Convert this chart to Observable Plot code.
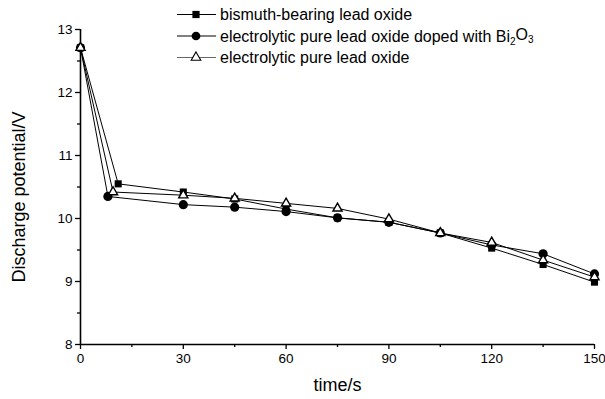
<!DOCTYPE html>
<html>
<head>
<meta charset="utf-8">
<script src="https://cdn.jsdelivr.net/npm/d3@7"></script>
<script src="https://cdn.jsdelivr.net/npm/@observablehq/plot@0.6"></script>
<style>
  html, body { margin: 0; padding: 0; background: #fff; }
  #chart { position: relative; width: 605px; height: 399px; }
</style>
</head>
<body>
<div id="chart"></div>
<script>
// Series data (time in s, discharge potential in V)
const seriesNames = [
  "bismuth-bearing lead oxide",
  "electrolytic pure lead oxide doped with Bi2O3",
  "electrolytic pure lead oxide"
];
const timeSquare = [0, 11, 30, 45, 60, 75, 90, 105, 120, 135, 150];
const vSquare    = [12.71, 10.55, 10.42, 10.31, 10.15, 10.01, 9.94, 9.77, 9.53, 9.27, 8.99];
const timeCircle = [0, 8, 30, 45, 60, 75, 90, 105, 120, 135, 150];
const vCircle    = [12.71, 10.35, 10.22, 10.18, 10.11, 10.01, 9.94, 9.77, 9.58, 9.44, 9.12];
const timeTri    = [0, 9.5, 30, 45, 60, 75, 90, 105, 120, 135, 150];
const vTri       = [12.71, 10.42, 10.37, 10.32, 10.24, 10.16, 9.99, 9.77, 9.62, 9.34, 9.07];
const xTicks = [0, 30, 60, 90, 120, 150];
const xMinor = [15, 45, 75, 105, 135];
const yTicks = [8, 9, 10, 11, 12, 13];
const yMinor = [8.5, 9.5, 10.5, 11.5, 12.5];

const mk = (ts, vs, s) => ts.map((t, i) => ({t, v: vs[i], s}));
const dSq = mk(timeSquare, vSquare, seriesNames[0]);
const dCi = mk(timeCircle, vCircle, seriesNames[1]);
const dTr = mk(timeTri, vTri, seriesNames[2]);

const font = "'Liberation Sans', Arial, sans-serif";

const plot = Plot.plot({
  width: 605,
  height: 399,
  marginLeft: 80,
  marginRight: 11,
  marginTop: 29,
  marginBottom: 55,
  style: {fontFamily: font, fontSize: "13px", color: "#000", background: "#fff"},
  x: {domain: [0, 150]},
  y: {domain: [8, 13]},
  marks: [
    Plot.axisX({ticks: xTicks, tickSize: 5, tickPadding: 4, tickFormat: "d", label: "time/s", labelAnchor: "center", labelArrow: "none", labelOffset: 46, fontSize: 13.5, strokeWidth: 1.3}),
    Plot.axisX({ticks: xMinor, tickSize: 3, text: null, label: null, strokeWidth: 1.3}),
    Plot.axisY({ticks: yTicks, tickSize: 5, tickPadding: 3, tickFormat: "d", label: "Discharge potential/V", labelAnchor: "center", labelArrow: "none", labelOffset: 68, fontSize: 13.5, strokeWidth: 1.3}),
    Plot.axisY({ticks: yMinor, tickSize: 3, text: null, label: null, strokeWidth: 1.3}),
    Plot.ruleX([0], {stroke: "#000", strokeWidth: 1.6}),
    Plot.ruleY([8], {stroke: "#000", strokeWidth: 1.6}),
    Plot.line(dSq, {x: "t", y: "v", stroke: "#000", strokeWidth: 1}),
    Plot.line(dCi, {x: "t", y: "v", stroke: "#000", strokeWidth: 1}),
    Plot.line(dTr, {x: "t", y: "v", stroke: "#000", strokeWidth: 1}),
    Plot.dot(dSq, {x: "t", y: "v", symbol: "square", r: 4.0, fill: "#000", stroke: "none"}),
    Plot.dot(dCi, {x: "t", y: "v", symbol: "circle", r: 4.6, fill: "#000", stroke: "none"}),
    Plot.dot(dTr, {x: "t", y: "v", symbol: "triangle", r: 3.4, fill: "#fff", stroke: "#000", strokeWidth: 1.4})
  ]
});

// axis titles: size and position
const svg = d3.select(plot);
svg.selectAll("g[aria-label='x-axis label'] text, g[aria-label='y-axis label'] text")
  .style("font-size", "18px");
svg.selectAll("g[aria-label='y-axis label']").each(function () {
  const g = d3.select(this);
  const tr = g.attr("transform") || "";
  g.attr("transform", "translate(0,10) " + tr);
});

// Legend drawn inside the plot area
const lg = svg.append("g").attr("font-family", font).attr("font-size", 16).attr("text-anchor", "start");
const symbols = [d3.symbolSquare, d3.symbolCircle, d3.symbolTriangle];
const fills = ["#000", "#000", "#fff"];
const sizes = [52, 60, 40];
seriesNames.forEach((name, i) => {
  const y = 14.5 + i * 21.5;
  const g = lg.append("g").attr("transform", `translate(0,${y})`);
  g.append("line").attr("x1", 177).attr("x2", 216).attr("y1", 0).attr("y2", 0)
    .attr("stroke", i === 2 ? "#666" : "#000").attr("stroke-width", 1);
  g.append("path").attr("d", d3.symbol(symbols[i], sizes[i])())
    .attr("transform", "translate(196,0)")
    .attr("fill", fills[i]).attr("stroke", i === 2 ? "#000" : "none").attr("stroke-width", 1.1);
  const t = g.append("text").attr("x", 220).attr("y", 0).attr("dy", "0.35em").attr("text-anchor", "start");
  if (name.endsWith("Bi2O3")) {
    t.append("tspan").text(name.slice(0, -5) + "Bi");
    t.append("tspan").attr("font-size", 10).attr("dy", "0.3em").text("2");
    t.append("tspan").attr("dy", "-0.3em").text("O");
    t.append("tspan").attr("font-size", 10).attr("dy", "0.3em").text("3");
  } else {
    t.text(name);
  }
});

document.getElementById("chart").appendChild(plot);
</script>
</body>
</html>
